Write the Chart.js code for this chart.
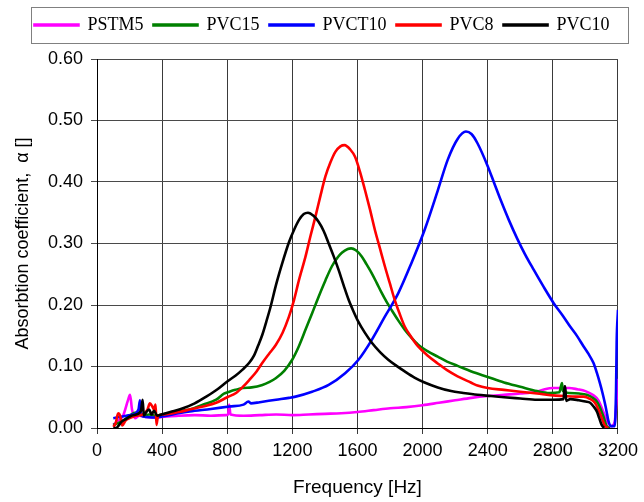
<!DOCTYPE html>
<html>
<head>
<meta charset="utf-8">
<script src="https://cdn.jsdelivr.net/npm/chart.js@4/dist/chart.umd.min.js"></script>
<style>
  html, body { margin: 0; padding: 0; background: #ffffff; }
  canvas { display: block; }
</style>
</head>
<body>
<canvas id="c" width="644" height="502"></canvas>
<script>
// ---- data ----
const seriesNames = ['PSTM5', 'PVC15', 'PVCT10', 'PVC8', 'PVC10'];
const seriesColors = ['#ff00ff', '#008000', '#0000ff', '#ff0000', '#000000'];

const xTicks = [0, 400, 800, 1200, 1600, 2000, 2400, 2800, 3200];
const yTicks = [0, 0.1, 0.2, 0.3, 0.4, 0.5, 0.6];

const pstm5Freq  = [100,130,160,190,203,215,233,260,300,350,400,500,600,700,790,805,812,820,900,1000,1100,1200,1300,1400,1500,1600,1700,1800,1900,2000,2100,2200,2300,2400,2500,2600,2700,2750,2800,2900,2950,3000,3050,3080,3100,3120,3140,3160,3180,3190,3200];
const pstm5Alpha = [0.005,0.012,0.020,0.045,0.054,0.030,0.016,0.020,0.018,0.017,0.018,0.020,0.021,0.020,0.021,0.022,0.038,0.022,0.020,0.021,0.022,0.021,0.022,0.023,0.024,0.026,0.029,0.032,0.034,0.037,0.041,0.045,0.049,0.052,0.054,0.056,0.059,0.063,0.065,0.065,0.063,0.060,0.053,0.045,0.033,0.020,0.008,0.003,0.010,0.040,0.080];

const pvc15Freq  = [100,130,160,200,240,280,320,360,400,500,569,650,732,780,813,850,894,950,1016,1060,1098,1150,1199,1240,1281,1322,1362,1403,1443,1480,1504,1540,1561,1590,1626,1656,1687,1718,1748,1779,1809,1850,1890,1931,1971,2030,2093,2150,2215,2300,2400,2500,2600,2703,2780,2840,2850,2856,2862,2900,2960,3008,3040,3070,3090,3110,3131,3150];
const pvc15Alpha = [0.005,0.008,0.012,0.020,0.025,0.020,0.022,0.020,0.022,0.027,0.030,0.038,0.046,0.056,0.059,0.062,0.065,0.066,0.070,0.075,0.081,0.093,0.111,0.133,0.160,0.187,0.214,0.240,0.263,0.278,0.285,0.291,0.292,0.289,0.279,0.266,0.252,0.236,0.220,0.205,0.192,0.175,0.160,0.147,0.136,0.125,0.116,0.108,0.101,0.092,0.083,0.074,0.067,0.060,0.057,0.058,0.068,0.073,0.060,0.057,0.056,0.054,0.050,0.043,0.033,0.019,0.003,0.000];

const pvct10Freq  = [100,140,180,220,255,264,272,300,350,406,500,569,700,813,900,930,945,1000,1100,1179,1220,1321,1423,1524,1606,1687,1768,1850,1931,2012,2093,2154,2215,2266,2300,2337,2398,2440,2479,2530,2581,2630,2683,2740,2805,2860,2906,2950,2988,3020,3049,3070,3089,3105,3119,3130,3140,3155,3180,3188,3192,3200];
const pvct10Alpha = [0.016,0.018,0.020,0.022,0.030,0.045,0.020,0.018,0.017,0.019,0.024,0.027,0.031,0.035,0.038,0.043,0.040,0.042,0.046,0.049,0.051,0.059,0.070,0.089,0.111,0.143,0.181,0.219,0.268,0.322,0.386,0.436,0.470,0.482,0.478,0.463,0.427,0.398,0.371,0.338,0.308,0.282,0.257,0.231,0.203,0.183,0.165,0.149,0.133,0.120,0.106,0.090,0.073,0.057,0.041,0.027,0.013,0.003,0.003,0.060,0.140,0.192];

const pvc8Freq  = [100,115,130,142,155,175,200,240,280,310,325,340,350,360,365,375,406,500,569,650,732,800,854,900,935,980,1016,1055,1098,1140,1179,1210,1240,1281,1312,1342,1372,1403,1434,1464,1495,1521,1555,1585,1615,1646,1677,1707,1738,1768,1799,1829,1860,1890,1930,1971,2030,2093,2150,2215,2296,2337,2400,2500,2600,2703,2800,2866,2940,2988,3030,3058,3075,3089,3105,3119,3140];
const pvc8Alpha = [0.002,0.008,0.024,0.020,0.004,0.012,0.016,0.020,0.022,0.030,0.040,0.035,0.030,0.038,0.005,0.020,0.022,0.026,0.030,0.035,0.041,0.050,0.057,0.068,0.078,0.092,0.106,0.120,0.135,0.155,0.181,0.208,0.240,0.279,0.313,0.344,0.377,0.409,0.432,0.449,0.458,0.460,0.453,0.441,0.417,0.387,0.355,0.322,0.292,0.263,0.235,0.208,0.185,0.165,0.148,0.133,0.118,0.105,0.094,0.084,0.074,0.069,0.065,0.062,0.059,0.056,0.053,0.052,0.051,0.051,0.047,0.041,0.033,0.024,0.013,0.004,0.000];

const pvc10Freq  = [100,118,130,150,180,210,240,270,280,288,300,320,335,350,370,396,450,528,600,671,740,802,850,894,935,965,990,1016,1040,1067,1100,1138,1179,1210,1240,1270,1296,1330,1362,1393,1423,1454,1484,1515,1545,1575,1605,1645,1687,1740,1789,1840,1890,1950,2012,2093,2175,2250,2337,2420,2500,2600,2703,2800,2866,2872,2876,2882,2907,2960,3000,3029,3050,3070,3085,3100,3115];
const pvc10Alpha = [0.000,0.000,0.003,0.010,0.015,0.020,0.022,0.028,0.046,0.020,0.025,0.030,0.022,0.028,0.020,0.022,0.026,0.032,0.040,0.051,0.063,0.076,0.085,0.095,0.106,0.118,0.134,0.152,0.173,0.198,0.233,0.268,0.302,0.322,0.338,0.348,0.350,0.345,0.335,0.320,0.300,0.279,0.257,0.232,0.209,0.190,0.173,0.155,0.139,0.123,0.111,0.101,0.092,0.082,0.074,0.066,0.060,0.057,0.054,0.052,0.050,0.048,0.046,0.046,0.047,0.068,0.068,0.044,0.047,0.045,0.043,0.041,0.035,0.027,0.016,0.005,0.000];

const freqs  = [pstm5Freq, pvc15Freq, pvct10Freq, pvc8Freq, pvc10Freq];
const alphas = [pstm5Alpha, pvc15Alpha, pvct10Alpha, pvc8Alpha, pvc10Alpha];

// ---- build datasets ----
const datasets = seriesNames.map((name, i) => ({
  label: name,
  data: freqs[i].map((f, k) => ({ x: f, y: alphas[i][k] })),
  borderColor: seriesColors[i],
  backgroundColor: seriesColors[i],
  borderWidth: 2.6,
  pointRadius: 0,
  cubicInterpolationMode: 'monotone',
  fill: false,
  order: seriesNames.length - i   // last series drawn on top, like the original
}));

const legendFrame = {
  id: 'legendFrame',
  afterInit(chart) {
    const lg = chart.legend;
    if (lg && !lg._patched) {
      const orig = lg.fit.bind(lg);
      lg.fit = function () { orig(); this.height += 15; };
      lg._patched = true;
    }
  },
  afterLayout(chart) {
    // centre the legend on the whole canvas, not on the padded area
    const lg = chart.legend;
    if (lg) { lg.left += 11; lg.right += 11; }
  },
  afterDraw(chart) {
    const lg = chart.legend;
    if (!lg || !lg.legendHitBoxes || !lg.legendHitBoxes.length) return;
    const hb = lg.legendHitBoxes;
    const left = Math.min(...hb.map(h => h.left)) - 3;
    const right = Math.max(...hb.map(h => h.left + h.width)) + 19;
    const top = hb[0].top - 9;
    const bottom = hb[0].top + hb[0].height + 9;
    const ctx = chart.ctx;
    ctx.save();
    ctx.strokeStyle = '#808080';
    ctx.lineWidth = 1;
    ctx.strokeRect(Math.round(left) + 0.5, Math.round(top) + 0.5, Math.round(right - left), Math.round(bottom - top));
    ctx.restore();
  }
};

new Chart(document.getElementById('c'), {
  type: 'line',
  data: { datasets },
  plugins: [legendFrame],
  options: {
    responsive: false,
    animation: false,
    layout: { padding: { top: 6, right: 22, left: 0, bottom: 0 } },
    plugins: {
      tooltip: { enabled: false },
      legend: {
        display: true,
        position: 'top',
        reverse: true,
        labels: {
          boxWidth: 44,
          boxHeight: 1,
          padding: 10,
          color: '#000',
          font: { family: '"Liberation Serif", "Times New Roman", serif', size: 18 }
        }
      }
    },
    scales: {
      x: {
        type: 'linear',
        min: xTicks[0],
        max: xTicks[xTicks.length - 1],
        afterBuildTicks(scale) { scale.ticks = xTicks.map(v => ({ value: v })); },
        afterFit(scale) { scale.height = 74; },
        ticks: {
          color: '#000',
          padding: 6,
          maxRotation: 0,
          font: { family: '"Liberation Sans", Arial, sans-serif', size: 18 },
          callback: v => String(v)
        },
        grid: { color: '#3a3a3a', lineWidth: 1, tickLength: 6, drawTicks: true },
        border: { display: true, color: '#000', width: 1 },
        title: {
          display: true,
          text: 'Frequency [Hz]',
          color: '#000',
          font: { family: '"Liberation Sans", Arial, sans-serif', size: 19 },
          padding: { top: 0, bottom: 3 }
        }
      },
      y: {
        type: 'linear',
        min: yTicks[0],
        max: yTicks[yTicks.length - 1],
        afterBuildTicks(scale) { scale.ticks = yTicks.map(v => ({ value: v })); },
        afterFit(scale) { scale.width = 97; },
        ticks: {
          color: '#000',
          padding: 8,
          font: { family: '"Liberation Sans", Arial, sans-serif', size: 18 },
          callback: v => Number(v).toFixed(2)
        },
        grid: { color: '#4a4a4a', lineWidth: 1, tickLength: 6, drawTicks: true },
        border: { display: true, color: '#000', width: 1 },
        title: {
          display: true,
          text: 'Absorbtion coefficient,  α []',
          color: '#000',
          font: { family: '"Liberation Sans", Arial, sans-serif', size: 18 },
          padding: { top: 12, bottom: 0 }
        }
      }
    }
  }
});
</script>
</body>
</html>
